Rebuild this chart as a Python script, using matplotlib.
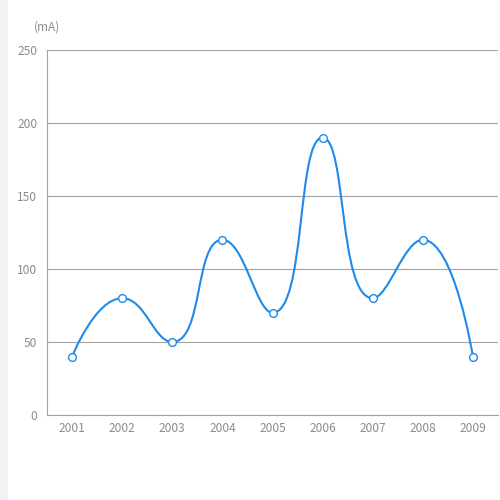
import matplotlib.pyplot as plt
from matplotlib.path import Path
from matplotlib.patches import PathPatch, Rectangle

years = ['2001', '2002', '2003', '2004', '2005', '2006', '2007', '2008', '2009']
values = [40, 80, 50, 120, 70, 190, 80, 120, 40]
y_ticks = [0, 50, 100, 150, 200, 250]

LINE = '#1f8ae8'
GRID = '#a3a3a3'
TXT = '#8c8c8c'

plt.rcParams['font.family'] = ['Noto Sans CJK SC', 'DejaVu Sans']

fig = plt.figure(figsize=(5, 5), dpi=100)
fig.patches.append(Rectangle((0, 0), 8 / 500, 1, transform=fig.transFigure,
                             facecolor='#f1f1f6', edgecolor='none', zorder=0))
ax = fig.add_axes([47 / 500, 85 / 500, 451 / 500, 365 / 500])

n = len(values)
ax.set_xlim(-0.5, n - 0.5)
ax.set_ylim(0, 250)

# echarts-style smooth curve, computed in pixel-ish units
sx, sy = 50.0, 365 / 250
pts = [(i * sx, v * sy) for i, v in enumerate(values)]
smooth = 0.5
verts = [pts[0]]
codes = [Path.MOVETO]
cp0 = pts[0]
for i in range(1, n):
    x, y = pts[i]
    px, py = pts[i - 1]
    if i == n - 1:
        cp1 = (x, y)
        ncp0 = (x, y)
    else:
        nx, ny = pts[i + 1]
        vx, vy = nx - px, ny - py
        lp = ((x - px) ** 2 + (y - py) ** 2) ** 0.5
        ln = ((nx - x) ** 2 + (ny - y) ** 2) ** 0.5
        r = ln / (ln + lp)
        ncx = x + vx * smooth * r
        ncy = y + vy * smooth * r
        ncx = max(min(ncx, max(nx, x)), min(nx, x))
        ncy = max(min(ncy, max(ny, y)), min(ny, y))
        vx, vy = ncx - x, ncy - y
        c1x = x - vx * lp / ln
        c1y = y - vy * lp / ln
        c1x = max(min(c1x, max(px, x)), min(px, x))
        c1y = max(min(c1y, max(py, y)), min(py, y))
        vx, vy = x - c1x, y - c1y
        ncp0 = (x + vx * ln / lp, y + vy * ln / lp)
        cp1 = (c1x, c1y)
    verts += [cp0, cp1, (x, y)]
    codes += [Path.CURVE4] * 3
    cp0 = ncp0

verts = [(a / sx, b / sy) for a, b in verts]
ax.add_patch(PathPatch(Path(verts, codes), facecolor='none', edgecolor=LINE,
                       lw=1.5, zorder=3, capstyle='round', joinstyle='round'))
ax.plot(range(n), values, ls='none', marker='o', ms=5.6, mfc='white',
        mec=LINE, mew=1.0, zorder=4, clip_on=False)

ax.set_yticks(y_ticks)
ax.set_xticks(range(n))
ax.set_xticklabels(years)
ax.grid(axis='y', color=GRID, lw=0.8)
ax.set_axisbelow(True)
for s in ['top', 'right']:
    ax.spines[s].set_visible(False)
for s in ['left', 'bottom']:
    ax.spines[s].set_color(GRID)
    ax.spines[s].set_linewidth(0.8)
ax.tick_params(length=0, colors=TXT, labelsize=8.6)
ax.tick_params(axis='y', pad=7)
ax.tick_params(axis='x', pad=5)
ax.text(0, 1.045, '(mA)', transform=ax.transAxes, ha='center', va='bottom',
        color=TXT, fontsize=8.6)

fig.savefig('out.png', dpi=100)
